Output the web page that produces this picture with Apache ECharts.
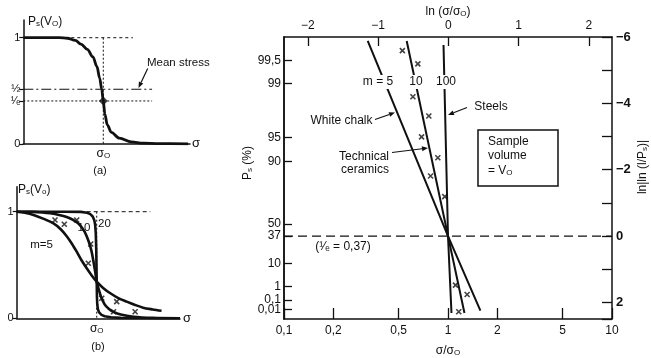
<!DOCTYPE html>
<html><head><meta charset="utf-8">
<script src="https://cdn.jsdelivr.net/npm/echarts@6/dist/echarts.min.js"></script>
<style>html,body{margin:0;padding:0;background:#fff}#c{width:651px;height:358px}</style>
</head><body><div id="c"></div>
<script>
const FONT = '"Liberation Sans", Arial, sans-serif';
const INK = '#111';

// ---------- Panel (a): survival probability vs stress (σ in units of σ0)
const aStress   = [0, 0.45, 0.55, 0.65, 0.72, 0.80, 0.87, 0.92, 0.955, 0.98, 1.00, 1.02, 1.05, 1.10, 1.20, 1.35, 1.50, 1.70, 2.06];
const aSurvival = [1, 1.00, 0.995, 0.975, 0.94, 0.89, 0.82, 0.73, 0.62, 0.515, 0.405, 0.28, 0.18, 0.11, 0.055, 0.02, 0.008, 0.003, 0.002];
const aTickValues = [0, 0.405, 0.515, 1];
const aTickLabels = ['0', '¹⁄ₑ', '½', '1'];
const aOneLevel = 1, aHalfLevel = 0.515, aInvELevel = 0.405;
const aDiamond = [1, 0.405];

// ---------- Panel (b): curves for m = 5, 10, 20
const bCurveM5  = [[0,1],[0.1,0.99],[0.21,0.97],[0.33,0.935],[0.46,0.89],[0.55,0.835],[0.625,0.77],[0.69,0.70],[0.75,0.625],[0.81,0.545],[0.875,0.47],[0.94,0.40],[1.0,0.343],[1.08,0.285],[1.17,0.235],[1.27,0.19],[1.375,0.156],[1.48,0.125],[1.58,0.10],[1.7,0.083],[1.81,0.07]];
const bCurveM10 = [[0,1],[0.2,0.998],[0.32,0.993],[0.42,0.985],[0.53,0.97],[0.625,0.95],[0.71,0.92],[0.79,0.875],[0.85,0.81],[0.9,0.72],[0.935,0.63],[0.96,0.53],[0.98,0.44],[1.0,0.343],[1.03,0.26],[1.06,0.19],[1.1,0.13],[1.15,0.09],[1.21,0.06],[1.3,0.035],[1.46,0.015],[1.7,0.004],[2.04,0.0]];
const bCurveM20 = [[0,1],[0.6,1],[0.8,0.998],[0.88,0.99],[0.92,0.977],[0.95,0.955],[0.97,0.92],[0.98,0.88],[0.988,0.8],[0.994,0.65],[1.0,0.343],[1.003,0.2],[1.007,0.13],[1.015,0.085],[1.03,0.055],[1.06,0.032],[1.1,0.02],[1.18,0.01],[1.3,0.004],[1.5,0.001],[2.04,0.0]];
const bCrossStress   = [0.479, 0.595, 0.75, 0.925, 0.895, 1.063, 1.25, 1.21, 1.48];
const bCrossSurvival = [0.922, 0.882, 0.922, 0.697, 0.516, 0.188, 0.156, 0.062, 0.062];
const bTickValues = [0, 1];
const bTickLabels = ['0', '1'];
const bOneLevel = 1;

// ---------- Main Weibull plot
const pTickPercent = [99.5, 99, 95, 90, 50, 37, 10, 1, 0.1, 0.01];
const pTickLabels  = ['99,5', '99', '95', '90', '50', '37', '10', '1', '0,1', '0,01'];
const ratioTicks      = [0.1, 0.2, 0.5, 1, 2, 5, 10];
const ratioTickLabels = ['0,1', '0,2', '0,5', '1', '2', '5', '10'];
const lnTicks = [-2, -1, 0, 1, 2];
const chalkLine    = [[0.324,-5.88],[1,0],[1.576,2.25]];   // m = 5
const ceramicsLine = [[0.56,-5.88],[1,0],[1.26,2.32]];     // m = 10
const steelsLine   = [[0.939,-5.76],[1,0],[1.05,2.32]];    // m = 100
const crossRatio = [0.527, 0.655, 0.611, 0.764, 0.690, 0.867, 0.783, 0.956, 1.111, 1.308, 1.163];
const crossLnLn  = [-5.59, -5.19, -4.20, -3.62, -2.99, -2.36, -1.81, -1.19, 1.48, 1.76, 2.28];
const refLnLn = 0; // P = 1/e

const lnln = p => Math.log(Math.log(100 / p));
const pTickValues = pTickPercent.map(lnln);
const pValsEven = pTickValues.filter((v, i) => i % 2 === 0);
const pValsOdd  = pTickValues.filter((v, i) => i % 2 === 1);

const cross = 'path://M0,0 L10,10 M10,0 L0,10';
const subRich = (fs) => ({ a: { fontSize: fs, fontFamily: FONT, color: INK }, b: { fontSize: Math.round(fs * 0.68), fontFamily: FONT, color: INK, verticalAlign: 'bottom' } });

function nearestLabel(v, vals, labels) {
  let bi = 0, bd = Infinity;
  vals.forEach((x, i) => { const d = Math.abs(x - v); if (d < bd) { bd = d; bi = i; } });
  return labels[bi];
}

function arrow(x1, y1, x2, y2) {
  const ang = Math.atan2(y2 - y1, x2 - x1), L = 6, W = 2.4;
  const bx = x2 - L * Math.cos(ang), by = y2 - L * Math.sin(ang);
  const px = -Math.sin(ang) * W, py = Math.cos(ang) * W;
  return [
    { type: 'line', shape: { x1, y1, x2: bx, y2: by }, style: { stroke: INK, lineWidth: 1.2 }, z: 45 },
    { type: 'polygon', shape: { points: [[x2, y2], [bx + px, by + py], [bx - px, by - py]] }, style: { fill: INK }, z: 45 }
  ];
}
function txt(text, x, y, opt) {
  opt = opt || {};
  const st = { text, fill: INK, font: (opt.fs || 12) + 'px ' + FONT, textAlign: opt.align || 'center', textVerticalAlign: 'middle', rich: opt.rich };
  if (opt.bg) { st.backgroundColor = '#fff'; st.padding = [1, 2]; }
  return { type: 'text', x, y, rotation: opt.rot || 0, z: 50, style: st };
}

const axLine = { show: true, onZero: false, lineStyle: { color: INK, width: 1.5 } };
const lbl = (o) => Object.assign({ hideOverlap: false, showMinLabel: true, showMaxLabel: true, color: INK, fontFamily: FONT }, o);
const leftP = (vals) => ({
  gridIndex: 2, type: 'value', inverse: true, min: -6, max: 2.5, position: 'left', axisLine: axLine, splitLine: { show: false },
  axisTick: { inside: true, length: 8, customValues: vals, lineStyle: { color: INK, width: 1.3 } },
  axisLabel: lbl({ customValues: vals, margin: 3, fontSize: 12, formatter: v => nearestLabel(v, pTickValues, pTickLabels) })
});

const chart = echarts.init(document.getElementById('c'), null, { renderer: 'canvas' });
chart.setOption({
  animation: false,
  backgroundColor: '#fff',
  grid: [
    { left: 23.3, top: 20, width: 166.7, height: 124 },
    { left: 16.7, top: 186.7, width: 163.3, height: 131.6 },
    { left: 284, top: 37, width: 328, height: 282 }
  ],
  xAxis: [
    { gridIndex: 0, type: 'value', min: 0, max: 2.084, axisLine: axLine, splitLine: { show: false }, axisTick: { show: false },
      axisLabel: lbl({ customValues: [1], margin: 4, formatter: () => '{a|σ}{b|O}', rich: subRich(12) }) },
    { gridIndex: 1, type: 'value', min: 0, max: 2.041, axisLine: axLine, splitLine: { show: false }, axisTick: { show: false },
      axisLabel: lbl({ customValues: [1], margin: 4, formatter: () => '{a|σ}{b|O}', rich: subRich(12) }) },
    { gridIndex: 2, type: 'log', logBase: 10, min: 0.1, max: 10, show: false, position: 'bottom' },
    { gridIndex: 2, type: 'value', min: -1, max: 1, position: 'bottom', axisLine: axLine, splitLine: { show: false },
      axisTick: { inside: true, length: 11, customValues: ratioTicks.map(Math.log10), lineStyle: { color: INK, width: 1.3 } },
      axisLabel: lbl({ customValues: ratioTicks.map(Math.log10), margin: 6, fontSize: 12,
        formatter: v => nearestLabel(v, ratioTicks.map(Math.log10), ratioTickLabels) }) },
    { gridIndex: 2, type: 'value', min: -2.338, max: 2.328, position: 'top', axisLine: axLine, splitLine: { show: false },
      axisTick: { inside: true, length: 9, customValues: lnTicks, lineStyle: { color: INK, width: 1.3 } },
      axisLabel: lbl({ customValues: lnTicks, margin: 5, fontSize: 12,
        formatter: v => (v < 0 ? '−' + Math.abs(v) : String(v)) }) }
  ],
  yAxis: [
    { gridIndex: 0, type: 'value', min: 0, max: 1.1665, axisLine: axLine, splitLine: { show: false },
      axisTick: { customValues: aTickValues, length: 4, lineStyle: { color: INK, width: 1.2 } },
      axisLabel: lbl({ customValues: aTickValues, margin: 3, fontSize: 11, lineHeight: 9,
        formatter: v => nearestLabel(v, aTickValues, aTickLabels) }) },
    { gridIndex: 1, type: 'value', min: 0, max: 1.2345, axisLine: axLine, splitLine: { show: false },
      axisTick: { customValues: bTickValues, length: 4, lineStyle: { color: INK, width: 1.2 } },
      axisLabel: lbl({ customValues: bTickValues, margin: 3, fontSize: 11,
        formatter: v => nearestLabel(v, bTickValues, bTickLabels) }) },
    leftP(pValsEven),
    { gridIndex: 2, type: 'value', inverse: true, min: -6, max: 2.5, interval: 1, position: 'right', axisLine: axLine, splitLine: { show: false },
      axisTick: { inside: true, length: 10, lineStyle: { color: INK, width: 1.3 } },
      axisLabel: lbl({ margin: 4, fontSize: 13, fontWeight: 'bold',
        formatter: v => (Math.round(v) % 2 !== 0 ? '' : (v < 0 ? '−' + Math.abs(v) : String(v))) }) },
    leftP(pValsOdd)
  ],
  series: [
    // panel (a)
    { type: 'line', xAxisIndex: 0, yAxisIndex: 0, data: [[0, aOneLevel], [1.37, aOneLevel]], symbol: 'none', lineStyle: { color: INK, width: 1, type: [3, 3] } },
    { type: 'line', xAxisIndex: 0, yAxisIndex: 0, data: [[1, aOneLevel], [1, 0]], symbol: 'none', lineStyle: { color: INK, width: 1, type: [2, 2] } },
    { type: 'line', xAxisIndex: 0, yAxisIndex: 0, data: [[0, aHalfLevel], [1.61, aHalfLevel]], symbol: 'none', lineStyle: { color: INK, width: 1.2, type: [10, 3, 2, 3] } },
    { type: 'line', xAxisIndex: 0, yAxisIndex: 0, data: [[0, aInvELevel], [1.61, aInvELevel]], symbol: 'none', lineStyle: { color: INK, width: 1, type: [2, 2] } },
    { type: 'line', xAxisIndex: 0, yAxisIndex: 0, data: aStress.map((s, i) => [s, aSurvival[i]]), smooth: 0.35, smoothMonotone: 'x', symbol: 'none', lineStyle: { color: INK, width: 2.8 }, z: 5 },
    { type: 'scatter', xAxisIndex: 0, yAxisIndex: 0, data: [aDiamond], symbol: 'diamond', symbolSize: 9, itemStyle: { color: INK }, z: 6 },
    // panel (b)
    { type: 'line', xAxisIndex: 1, yAxisIndex: 1, data: [[0, bOneLevel], [1.67, bOneLevel]], symbol: 'none', lineStyle: { color: INK, width: 1, type: [4, 3] } },
    { type: 'line', xAxisIndex: 1, yAxisIndex: 1, data: [[1, bOneLevel], [1, 0]], symbol: 'none', lineStyle: { color: INK, width: 1, type: [2, 2] } },
    { type: 'line', xAxisIndex: 1, yAxisIndex: 1, data: bCurveM5, smooth: 0.3, symbol: 'none', lineStyle: { color: INK, width: 2.6, join: 'round' }, z: 5 },
    { type: 'line', xAxisIndex: 1, yAxisIndex: 1, data: bCurveM10, smooth: 0.3, symbol: 'none', lineStyle: { color: INK, width: 2.6, join: 'round' }, z: 5 },
    { type: 'line', xAxisIndex: 1, yAxisIndex: 1, data: bCurveM20, smooth: false, symbol: 'none', lineStyle: { color: INK, width: 2.6, join: 'round' }, z: 5 },
    { type: 'scatter', xAxisIndex: 1, yAxisIndex: 1, data: bCrossStress.map((s, i) => [s, bCrossSurvival[i]]), symbol: cross, symbolSize: 5,
      itemStyle: { color: INK, borderColor: INK, borderWidth: 1.6 }, z: 6 },
    // main plot
    { type: 'line', xAxisIndex: 2, yAxisIndex: 2, data: [[0.1, refLnLn], [10, refLnLn]], symbol: 'none', lineStyle: { color: INK, width: 1.3, type: [9, 5] } },
    { type: 'line', xAxisIndex: 2, yAxisIndex: 2, data: chalkLine, symbol: 'none', lineStyle: { color: INK, width: 2 }, z: 5 },
    { type: 'line', xAxisIndex: 2, yAxisIndex: 2, data: ceramicsLine, symbol: 'none', lineStyle: { color: INK, width: 2 }, z: 5 },
    { type: 'line', xAxisIndex: 2, yAxisIndex: 2, data: steelsLine, symbol: 'none', lineStyle: { color: INK, width: 2 }, z: 5 },
    { type: 'scatter', xAxisIndex: 2, yAxisIndex: 2, data: crossRatio.map((r, i) => [r, crossLnLn[i]]), symbol: cross, symbolSize: 5,
      itemStyle: { color: INK, borderColor: INK, borderWidth: 1.6 }, z: 6 }
  ],
  graphic: [
    // panel (a) texts
    txt('{a|P}{b|s}{a|(V}{b|O}{a|)}', 28, 22, { align: 'left', rich: subRich(12) }),
    txt('σ', 192, 143, { align: 'left', fs: 13 }),
    txt('Mean stress', 147, 63, { align: 'left', fs: 11.5 }),
    ...arrow(147.7, 68.5, 138.5, 88),
    txt('(a)', 100, 171, { fs: 11 }),
    // panel (b) texts
    txt('{a|P}{b|s}{a|(V}{b|o}{a|)}', 18, 190, { align: 'left', rich: subRich(12) }),
    txt('σ', 183, 318, { align: 'left', fs: 13 }),
    txt('m=5', 41.5, 245, { fs: 11.5 }),
    txt('10', 84, 228, { fs: 11.5 }),
    txt('20', 104.5, 224, { fs: 11.5 }),
    txt('(b)', 98, 347, { fs: 11 }),
    // main plot texts
    txt('{a|ln (σ/σ}{b|O}{a|)}', 448, 12, { rich: subRich(12) }),
    txt('{a|σ/σ}{b|O}', 448, 351, { rich: subRich(12) }),
    txt('{a|P}{b|s}{a| (%)}', 248, 163, { rot: Math.PI / 2, rich: subRich(12) }),
    txt('{a|ln|ln (l/P}{b|s}{a|)|}', 643, 167, { rot: Math.PI / 2, rich: subRich(12) }),
    txt('m = 5', 378, 82, { bg: true }),
    txt('10', 416, 82, { bg: true }),
    txt('100', 446, 82, { bg: true }),
    txt('Steels', 491, 107),
    ...arrow(467, 107.5, 448, 115),
    txt('White chalk', 341.5, 121),
    ...arrow(375, 119.5, 395, 112.5),
    txt('Technical', 364, 157),
    txt('ceramics', 365, 170),
    ...arrow(392, 152.5, 428, 148),
    { type: 'rect', shape: { x: 478, y: 130, width: 80, height: 56 }, style: { fill: '#fff', stroke: INK, lineWidth: 1.5 }, z: 40 },
    txt('Sample', 488, 142, { align: 'left' }),
    txt('volume', 488, 156, { align: 'left' }),
    txt('{a|= V}{b|O}', 488, 171, { align: 'left', rich: subRich(12) }),
    txt('(¹⁄ₑ = 0,37)', 343, 247)
  ]
});
</script>
</body></html>
